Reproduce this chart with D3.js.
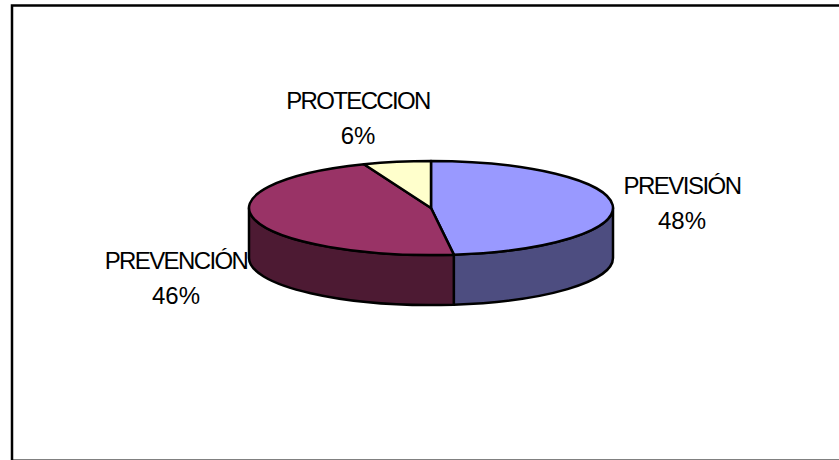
<!DOCTYPE html>
<html><head><meta charset="utf-8">
<script src="https://cdn.jsdelivr.net/npm/d3@7/dist/d3.min.js"></script>
<style>html,body{margin:0;padding:0;background:#fff}svg{display:block}
text{font-family:"Liberation Sans",Arial,sans-serif;font-size:24px;fill:#000;text-anchor:middle}</style>
</head><body><svg id="c" width="839" height="460"></svg>
<script>
const categories = ["PREVISIÓN","PREVENCIÓN","PROTECCION"];
const values = [48,46,6];
const topColors = ["#9999FF","#993366","#FFFFCC"];
const sideColors = ["#4D4D80","#4D1A33","#80805F"];
const labelX = [682,176,358];
const nameBaseline = [194,269,109];
const pctBaseline = [229,304,144];
const nameSpacing = [-1.5,-1.6,-1.65];

const svg = d3.select("#c");
const W=839,H=460, cx=431, cy=208, rx=182, ry=47, depth=50;

svg.append("rect").attr("width",W).attr("height",H).attr("fill","#fff");
svg.append("line").attr("x1",11).attr("x2",W).attr("y1",459.5).attr("y2",459.5).attr("stroke","#808080").attr("stroke-width",1);
svg.append("path").attr("d",`M12,460V5.5H${W}`).attr("fill","none").attr("stroke","#000").attr("stroke-width",2.5);

const slices = d3.pie().sort(null).value(d=>d)(values);
const px = a => cx + rx*Math.sin(a), py = a => cy - ry*Math.cos(a);

// side walls
const walls = svg.append("g");
slices.forEach((d,i)=>{
  const a0=Math.max(d.startAngle,Math.PI/2), a1=Math.min(d.endAngle,1.5*Math.PI);
  if(a1<=a0) return;
  const p=`M${px(a0)},${py(a0)}A${rx},${ry} 0 0 1 ${px(a1)},${py(a1)}V${py(a1)+depth}A${rx},${ry} 0 0 0 ${px(a0)},${py(a0)+depth}Z`;
  walls.append("path").attr("d",p).attr("fill",sideColors[i]).attr("stroke","#000").attr("stroke-width",2.5).attr("stroke-linejoin","round");
});
// top slices
const arc = d3.arc().innerRadius(0).outerRadius(rx);
const topFace = svg.append("g").attr("transform",`translate(${cx},${cy}) scale(1,${ry/rx})`);
topFace.selectAll("path").data(slices).join("path").attr("d",arc)
  .attr("fill",(d,i)=>topColors[i]).attr("stroke","#000").attr("stroke-width",2.5)
  .attr("stroke-linejoin","round").attr("vector-effect","non-scaling-stroke");

// labels
categories.forEach((c,i)=>{
  svg.append("text").attr("x",labelX[i]).attr("y",nameBaseline[i]).attr("letter-spacing",nameSpacing[i]).text(c);
  svg.append("text").attr("x",labelX[i]).attr("y",pctBaseline[i]).text(values[i]+"%");
});
</script></body></html>
